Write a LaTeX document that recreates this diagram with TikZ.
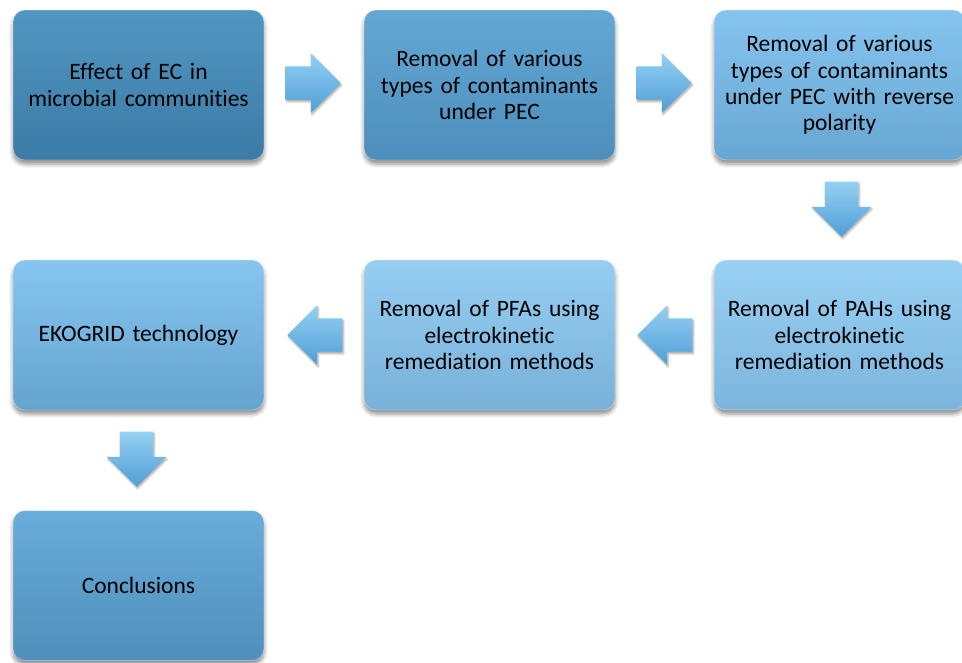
\documentclass[tikz,border=0pt]{standalone}
\usepackage{fontspec}
\setmainfont{Carlito}[RawFeature={-liga,-clig,-dlig}]
\usetikzlibrary{shapes.arrows,shadows.blur,calc}

% box shades, light top to darker bottom
\definecolor{bOneT}{HTML}{5196C2}\definecolor{bOneB}{HTML}{3B7BA6}
\definecolor{bTwoT}{HTML}{63A8D5}\definecolor{bTwoB}{HTML}{4D8EBB}
\definecolor{bThrT}{HTML}{85C4EE}\definecolor{bThrB}{HTML}{68A7D1}
\definecolor{bFouT}{HTML}{99D1F4}\definecolor{bFouB}{HTML}{7CB5DC}
\definecolor{bFivT}{HTML}{96CEF2}\definecolor{bFivB}{HTML}{78B1D9}
\definecolor{bSixT}{HTML}{85C5EF}\definecolor{bSixB}{HTML}{66A4D0}
\definecolor{bSevT}{HTML}{69ADDA}\definecolor{bSevB}{HTML}{4F8FBC}
\definecolor{arrT}{HTML}{94D0F3}\definecolor{arrB}{HTML}{4F9FD6}

\tikzset{
  stagebox/.style={rectangle, rounded corners=12pt, minimum width=251pt,
    minimum height=150pt, text width=240pt, align=center, inner sep=0pt,
    font=\fontsize{23.5}{26.3}\selectfont, text=black,
    draw=white, draw opacity=0.35, line width=0.8pt,
    blur shadow={shadow xshift=0pt, shadow yshift=-4pt,
      shadow blur radius=4pt, shadow opacity=45}},
  arrowbase/.style={single arrow, draw=none, minimum height=55pt,
    single arrow head extend=13pt, single arrow tip angle=90,
    top color=arrT, bottom color=arrB, anchor=tail,
    blur shadow={shadow xshift=1pt, shadow yshift=-2pt,
      shadow blur radius=2pt, shadow opacity=35}},
  harrow/.style={arrowbase, shape border rotate=#1,
    inner xsep=0pt, inner ysep=16.5pt},
  varrow/.style={arrowbase, shape border rotate=270,
    inner xsep=16.5pt, inner ysep=0pt},
}

\begin{document}
\begin{tikzpicture}[x=1pt, y=-1pt]
  \useasboundingbox (0,0) rectangle (962,662);

  % first row
  \node[stagebox, top color=bOneT, bottom color=bOneB] (ec) at (138.5,85)
    {Effect of EC in\\ microbial communities};
  \node[stagebox, top color=bTwoT, bottom color=bTwoB] (pec) at (489.5,85)
    {Removal of various\\ types of contaminants\\ under PEC};
  \node[stagebox, top color=bThrT, bottom color=bThrB] (rev) at (839.5,85)
    {Removal of various\\ types of contaminants\\ under PEC with reverse\\ polarity};

  % second row
  \node[stagebox, top color=bFouT, bottom color=bFouB] (pah) at (839.5,335)
    {Removal of PAHs using\\ electrokinetic\\ remediation methods};
  \node[stagebox, top color=bFivT, bottom color=bFivB] (pfa) at (489.5,335)
    {Removal of PFAs using\\ electrokinetic\\ remediation methods};
  \node[stagebox, top color=bSixT, bottom color=bSixB] (eko) at (138.5,335)
    {EKOGRID technology};

  % last row
  \node[stagebox, top color=bSevT, bottom color=bSevB] (con) at (138.5,585.5)
    {Conclusions};

  % block arrows between the stages, tails set 21pt off the source box
  \node[harrow=0]   (a1) at ($(ec.east)+(21,-2)$) {};
  \node[harrow=0]   (a2) at ($(pec.east)+(21,-2)$) {};
  \node[varrow]     (a3) at ($(rev.south)+(2,21)$) {};
  \node[harrow=180] (a4) at ($(pah.west)+(-21,0)$) {};
  \node[harrow=180] (a5) at ($(pfa.west)+(-21,0)$) {};
  \node[varrow]     (a6) at ($(eko.south)+(-2,21)$) {};
\end{tikzpicture}
\end{document}
